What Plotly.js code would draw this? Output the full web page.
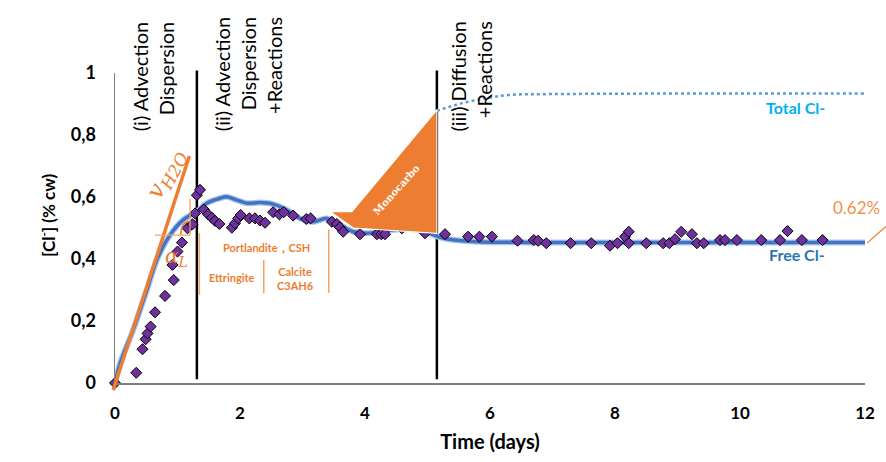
<!DOCTYPE html>
<html>
<head>
<meta charset="utf-8">
<script src="https://cdn.plot.ly/plotly-3.0.1.min.js"></script>
<style>html,body{margin:0;padding:0;background:#fff;}#chart{width:886px;height:462px;}</style>
</head>
<body>
<div id="chart"></div>
<script>
// ---- data ----
var measTime = [0.00,0.34,0.44,0.49,0.52,0.57,0.64,0.80,0.94,0.92,1.00,1.07,1.16,1.24,1.28,1.31,1.36,1.42,1.49,1.55,1.60,1.67,1.87,1.92,1.97,2.01,2.15,2.24,2.32,2.40,2.53,2.63,2.70,2.85,3.06,3.13,3.47,3.55,3.60,3.65,3.92,4.19,4.26,4.32,4.59,4.96,5.28,5.65,5.83,6.03,6.44,6.70,6.77,6.90,7.29,7.62,7.92,8.04,8.16,8.22,8.22,8.50,8.77,8.87,8.96,9.06,9.23,9.31,9.42,9.68,9.76,9.95,10.34,10.64,10.76,10.99,11.32];
var measCl = [0.000,0.033,0.109,0.141,0.160,0.182,0.228,0.281,0.332,0.381,0.424,0.453,0.499,0.512,0.547,0.606,0.623,0.560,0.544,0.533,0.523,0.513,0.501,0.515,0.531,0.542,0.531,0.531,0.524,0.517,0.551,0.544,0.551,0.540,0.529,0.531,0.520,0.513,0.502,0.488,0.480,0.480,0.480,0.480,0.499,0.483,0.480,0.472,0.472,0.472,0.459,0.461,0.459,0.451,0.451,0.451,0.443,0.451,0.472,0.488,0.451,0.451,0.451,0.451,0.464,0.488,0.480,0.451,0.451,0.461,0.461,0.461,0.461,0.461,0.490,0.461,0.461];

var freeTime = [0,0.08,0.29,0.51,0.67,0.88,1.09,1.31,1.47,1.68,1.79,1.95,2.11,2.32,2.53,2.75,2.96,3.17,3.39,3.60,3.81,4.03,4.30,4.55,4.75,5.00,5.20,5.40,5.80,6.20,7,8,9,10,11,12];
var freeCl = [0,0.063,0.171,0.300,0.397,0.477,0.526,0.553,0.580,0.596,0.601,0.590,0.580,0.582,0.577,0.558,0.531,0.520,0.531,0.510,0.488,0.483,0.490,0.496,0.497,0.485,0.470,0.462,0.456,0.454,0.453,0.453,0.453,0.453,0.453,0.453];

var totalTime = [5.15,5.54,5.92,6.30,7,8,9,10,11,12];
var totalCl = [0.878,0.902,0.918,0.929,0.932,0.933,0.934,0.934,0.934,0.934];

var xTicks = [0,2,4,6,8,10,12];
var yTicks = [0,0.2,0.4,0.6,0.8,1];

var phaseBounds = [1.31,5.15];
var vLine = {x0:-0.03,y0:-0.023,x1:1.19,y1:0.732};
var monocarbo = [[3.44,0.553],[3.79,0.553],[5.15,0.881],[5.15,0.483],[3.81,0.500]];

// ---- helpers ----
var XMAX = 12;
function px(x){return x/XMAX;}
var ORANGE = '#ED7D31';
var FONT = 'Lato, "Open Sans", sans-serif';

var traces = [
  {x:freeTime,y:freeCl,mode:'lines',line:{color:'#A9C8EC',width:6,shape:'spline',smoothing:0.8},hoverinfo:'skip'},
  {x:freeTime,y:freeCl,mode:'lines',line:{color:'#4472C4',width:3.5,shape:'spline',smoothing:0.8},name:'Free Cl-'},
  {x:totalTime,y:totalCl,mode:'lines',line:{color:'#5B9BD5',width:2.5,dash:'dot',shape:'spline'},name:'Total Cl-'},
  {x:measTime,y:measCl,mode:'markers',cliponaxis:false,marker:{symbol:'diamond',size:8.5,color:'#7030A0',line:{color:'#000',width:1}},name:'Measured'}
];

var shapes = [];
var path = 'M ' + monocarbo.map(function(p){return px(p[0])+','+p[1];}).join(' L ') + ' Z';
shapes.push({type:'path',xref:'paper',yref:'paper',path:path,fillcolor:ORANGE,line:{color:'#ffffff',width:1.2},layer:'above'});
phaseBounds.forEach(function(b){
  shapes.push({type:'line',xref:'paper',yref:'paper',x0:px(b),x1:px(b),y0:0.012,y1:1.008,line:{color:'#000',width:2.5},layer:'below'});
});
shapes.push({type:'line',xref:'paper',yref:'paper',x0:px(vLine.x0),y0:vLine.y0,x1:px(vLine.x1),y1:vLine.y1,line:{color:ORANGE,width:3.5},layer:'above'});
shapes.push({type:'line',xref:'paper',yref:'paper',x0:px(0.64),x1:px(1.20),y0:0.477,y1:0.477,line:{color:'#F4A460',width:1.3},layer:'above'});
shapes.push({type:'line',xref:'paper',yref:'paper',x0:px(1.20),x1:px(1.20),y0:0.477,y1:0.594,line:{color:'#F4A460',width:1.3},layer:'above'});
shapes.push({type:'path',xref:'paper',yref:'paper',path:'M '+px(1.05)+',0.478 Q '+px(1.06)+',0.52 '+px(1.19)+',0.522',line:{color:ORANGE,width:1.5},layer:'above'});
[[1.35,0.284,0.484],[2.38,0.290,0.397],[3.42,0.290,0.494]].forEach(function(s){
  shapes.push({type:'line',xref:'paper',yref:'paper',x0:px(s[0]),x1:px(s[0]),y0:s[1],y1:s[2],line:{color:'#F4A460',width:1.5},layer:'above'});
});
shapes.push({type:'line',xref:'paper',yref:'paper',x0:1.003,y0:0.452,x1:1.028,y1:0.505,line:{color:ORANGE,width:1.3}});

function phase(text,x,yTop){
  return {text:text,x:px(x),y:yTop,xref:'paper',yref:'paper',xanchor:'center',yanchor:'top',textangle:-90,align:'right',showarrow:false,font:{family:FONT,size:20,color:'#000'}};
}

var annotations = [
  phase('(i) Advection<br>Dispersion',0.62,1.171),
  phase('(ii) Advection<br>Dispersion<br>+Reactions',2.13,1.187),
  phase('(iii) Diffusion<br>+Reactions',5.69,1.171),
  {text:'[Cl<sup>-</sup>] (% cw)',x:-0.0893,y:0.542,xref:'paper',yref:'paper',xanchor:'center',yanchor:'middle',textangle:-90,showarrow:false,font:{family:FONT,size:17,color:'#000',weight:'bold'}},
  {text:'Total Cl-',x:10.88,y:0.889,xref:'x',yref:'y',xanchor:'center',yanchor:'middle',showarrow:false,font:{family:FONT,size:16,color:'#00B0F0',weight:'bold'}},
  {text:'Free Cl-',x:10.91,y:0.416,xref:'x',yref:'y',xanchor:'center',yanchor:'middle',showarrow:false,font:{family:FONT,size:16,color:'#2E75B6',weight:'bold'}},
  {text:'Portlandite，CSH',x:2.42,y:0.436,xref:'x',yref:'y',showarrow:false,font:{family:FONT,size:11,color:ORANGE,weight:'bold'}},
  {text:'Ettringite',x:1.87,y:0.34,xref:'x',yref:'y',showarrow:false,font:{family:FONT,size:11,color:ORANGE,weight:'bold'}},
  {text:'Calcite<br>C3AH6',x:2.88,y:0.337,xref:'x',yref:'y',showarrow:false,font:{family:FONT,size:11,color:ORANGE,weight:'bold'}},
  {text:'Monocarbo',x:4.51,y:0.623,xref:'x',yref:'y',textangle:-48,showarrow:false,font:{family:'"DejaVu Serif", serif',size:10,color:'#fff',weight:'bold'}},
  {text:'<i>v</i><sub><i>H2O</i></sub>',x:0.83,y:0.675,xref:'x',yref:'y',textangle:-62,showarrow:false,font:{family:'"DejaVu Serif", serif',size:24,color:ORANGE}},
  {text:'<i>α</i><sub><i>L</i></sub>',x:0.99,y:0.405,xref:'x',yref:'y',showarrow:false,font:{family:'"DejaVu Serif", serif',size:20,color:ORANGE}},
  {text:'0.62%',x:11.87,y:0.565,xref:'x',yref:'y',showarrow:false,font:{family:FONT,size:17,color:'#F0924F'}}
];

var layout = {
  width:886,height:462,
  margin:{l:115,r:21,t:73,b:79,pad:0},
  paper_bgcolor:'#fff',plot_bgcolor:'#fff',
  showlegend:false,
  separators:', ',
  xaxis:{range:[0,XMAX],tickvals:xTicks,showline:true,linecolor:'#7f7f7f',linewidth:1.5,showgrid:false,zeroline:false,ticks:'',ticklabelstandoff:14,
    tickfont:{family:FONT,size:17,color:'#000',weight:'bold'},
    title:{text:'Time (days)',font:{family:FONT,size:20,color:'#000',weight:'bold'},standoff:13}},
  yaxis:{range:[0,1],tickvals:yTicks,showline:true,linecolor:'#7f7f7f',linewidth:1.5,showgrid:false,zeroline:false,ticks:'',ticklabelstandoff:14,
    tickfont:{family:FONT,size:18,color:'#000',weight:'bold'}},
  shapes:shapes,
  annotations:annotations
};

Plotly.newPlot('chart',traces,layout,{displayModeBar:false,staticPlot:true});
</script>
</body>
</html>
